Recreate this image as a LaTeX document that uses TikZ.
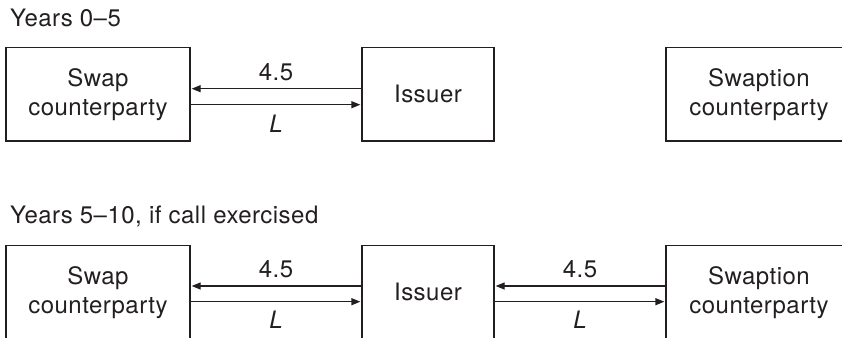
\documentclass[tikz,border=0pt]{standalone}
\usepackage{fontspec}
\setmainfont{TeX Gyre Heros}[LetterSpace=2]
\usetikzlibrary{arrows.meta}
\definecolor{ink}{HTML}{231F20}
\tikzset{
  box/.style={draw=ink, line width=1.3pt, minimum height=93pt, inner sep=0pt, align=center, text=ink, font=\fontsize{24}{29}\selectfont},
  flow/.style={draw=ink, line width=1.3pt, -{Triangle[length=9pt,width=7pt]}, shorten >=1pt},
  lbl/.style={text=ink, font=\fontsize{24}{29}\selectfont, anchor=base, inner sep=0pt},
  ttl/.style={text=ink, font=\fontsize{24}{29}\selectfont, anchor=base west, inner sep=0pt}
}
\begin{document}
\begin{tikzpicture}[x=1pt,y=-1pt]
\useasboundingbox (0,0) rectangle (842,337);
\clip (0,0) rectangle (842,337);
% top row
\node[ttl] (t1) at (10,27) {Years 0–5};
\node[box, minimum width=184pt] (a1) at (98,94.35) {Swap\\counterparty};
\node[box, minimum width=132pt] (b1) at (428,94.35) {Issuer};
\node[box, minimum width=186pt] (c1) at (759,94.35) {Swaption\\counterparty};
\draw[flow] ([yshift=5.65pt]b1.west) -- node[lbl, yshift=8.7pt] (l1) {4.5} ([yshift=5.65pt]a1.east);
\draw[flow] ([yshift=-10.35pt]a1.east) -- node[lbl, yshift=-27.3pt] (m1) {\itshape L} ([yshift=-10.35pt]b1.west);
% bottom row
\node[ttl] (t2) at (10,223) {Years 5–10, if call exercised};
\node[box, minimum width=184pt] (a2) at (98,292.2) {Swap\\counterparty};
\node[box, minimum width=132pt] (b2) at (428,292.2) {Issuer};
\node[box, minimum width=186pt] (c2) at (759,292.2) {Swaption\\counterparty};
\draw[flow] ([yshift=6.2pt]b2.west) -- node[lbl, yshift=9pt] (l2) {4.5} ([yshift=6.2pt]a2.east);
\draw[flow] ([yshift=-9.5pt]a2.east) -- node[lbl, yshift=-26.3pt] (m2) {\itshape L} ([yshift=-9.5pt]b2.west);
\draw[flow] ([yshift=6.2pt]c2.west) -- node[lbl, yshift=9pt] (l3) {4.5} ([yshift=6.2pt]b2.east);
\draw[flow] ([yshift=-9.5pt]b2.east) -- node[lbl, yshift=-26.3pt] (m3) {\itshape L} ([yshift=-9.5pt]c2.west);
\end{tikzpicture}
\end{document}
